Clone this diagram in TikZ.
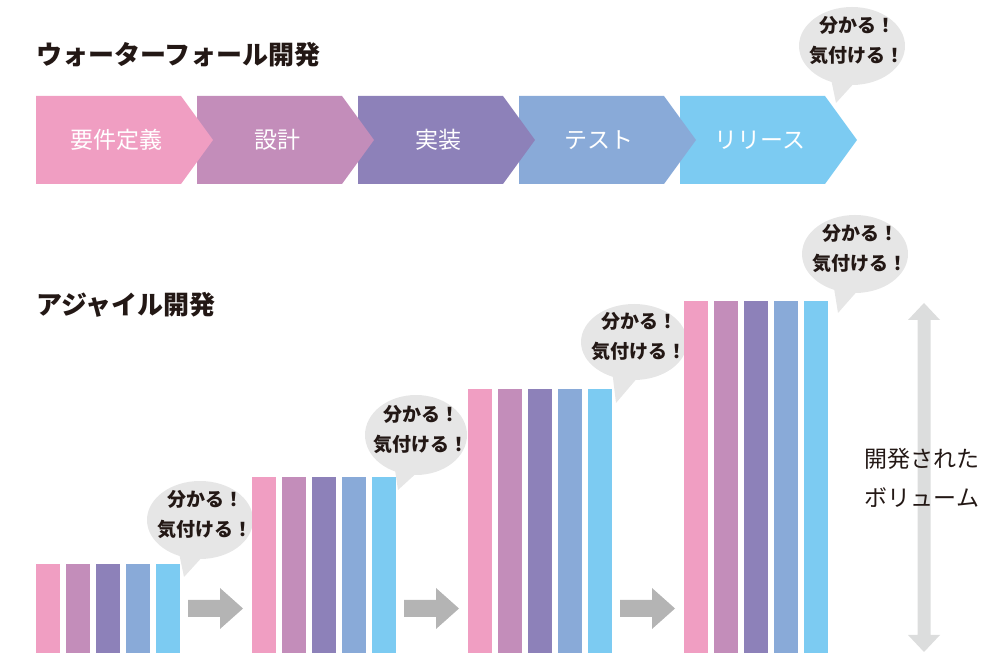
\documentclass[tikz,border=0pt]{standalone}
\usepackage{fontspec}
\setmainfont{Noto Sans CJK JP}

\definecolor{cpink}{HTML}{F09EC2}
\definecolor{cmauve}{HTML}{C38DBA}
\definecolor{cpurple}{HTML}{8D81B9}
\definecolor{cblue}{HTML}{89AAD8}
\definecolor{ccyan}{HTML}{7CCBF2}
\definecolor{bubblegray}{HTML}{E6E6E6}
\definecolor{arrowgray}{HTML}{B4B4B4}
\definecolor{volgray}{HTML}{DCDDDD}
\definecolor{textdark}{HTML}{231815}

\begin{document}
\begin{tikzpicture}[x=1pt,y=1pt,
    title/.style={anchor=west,inner sep=0pt,text=textdark,font=\fontsize{26}{30}\selectfont\bfseries},
    chevtext/.style={text=white,inner sep=0pt,font=\fontsize{23}{28}\selectfont},
    bubble/.style={fill=bubblegray},
    bubbletext/.style={align=center,inner sep=0pt,text=textdark,font=\fontsize{19}{30}\selectfont\bfseries},
    blockarrow/.style={fill=arrowgray}]
        \useasboundingbox (0,0) rectangle (1001,660);

        % waterfall
        \node[title] (wftitle) at (36,605) {ウォーターフォール開発};

        \fill[ccyan] (680,564) -- (825,564) -- (857,520) -- (825,476) -- (680,476) -- cycle;
        \fill[cblue] (519,564) -- (664,564) -- (696,520) -- (664,476) -- (519,476) -- cycle;
        \fill[cpurple] (358,564) -- (503,564) -- (535,520) -- (503,476) -- (358,476) -- cycle;
        \fill[cmauve] (197,564) -- (342,564) -- (374,520) -- (342,476) -- (197,476) -- cycle;
        \fill[cpink] (36,564) -- (181,564) -- (213,520) -- (181,476) -- (36,476) -- cycle;

        \node[chevtext] (req) at (116,520) {要件定義};
        \node[chevtext] (design) at (277,520) {設計};
        \node[chevtext] (impl) at (438,520) {実装};
        \node[chevtext] (test) at (599,520) {テスト};
        \node[chevtext] (release) at (760,520) {リリース};

        \fill[bubble] (830,586) -- (836,557) -- (857,580) -- cycle;
        \fill[bubble] (852,614) ellipse (53 and 39);
        \node[bubbletext] (b0) at (857,619) {分かる！\\気付ける！};

        % agile
        \node[title] (agtitle) at (36,355) {アジャイル開発};

        % first group
        \fill[cpink] (36,7) rectangle (59.5,96);
        \fill[cmauve] (66,7) rectangle (89.5,96);
        \fill[cpurple] (96,7) rectangle (119.5,96);
        \fill[cblue] (126,7) rectangle (149.5,96);
        \fill[ccyan] (156,7) rectangle (179.5,96);

        \fill[bubble] (178,112) -- (184,83) -- (205,106) -- cycle;
        \fill[bubble] (200,140) ellipse (53 and 39);
        \node[bubbletext] (b1) at (205,145) {分かる！\\気付ける！};

        \fill[blockarrow] (188,60) -- (220,60) -- (220,72) -- (243,51.5) -- (220,31) -- (220,43) -- (188,43) -- cycle;

        % second group
        \fill[cpink] (252,7) rectangle (275.5,183);
        \fill[cmauve] (282,7) rectangle (305.5,183);
        \fill[cpurple] (312,7) rectangle (335.5,183);
        \fill[cblue] (342,7) rectangle (365.5,183);
        \fill[ccyan] (372,7) rectangle (395.5,183);

        \fill[bubble] (394,197) -- (398,170) -- (421,191) -- cycle;
        \fill[bubble] (416,225) ellipse (51 and 40);
        \node[bubbletext] (b2) at (421,230) {分かる！\\気付ける！};

        \fill[blockarrow] (404,60) -- (436,60) -- (436,72) -- (459,51.5) -- (436,31) -- (436,43) -- (404,43) -- cycle;

        % third group
        \fill[cpink] (468,7) rectangle (491.5,271);
        \fill[cmauve] (498,7) rectangle (521.5,271);
        \fill[cpurple] (528,7) rectangle (551.5,271);
        \fill[cblue] (558,7) rectangle (581.5,271);
        \fill[ccyan] (588,7) rectangle (611.5,271);

        \fill[bubble] (612,290) -- (616,257) -- (639,284) -- cycle;
        \fill[bubble] (634,318) ellipse (53 and 38);
        \node[bubbletext] (b3) at (639,323) {分かる！\\気付ける！};

        \fill[blockarrow] (620,60) -- (652,60) -- (652,72) -- (675,51.5) -- (652,31) -- (652,43) -- (620,43) -- cycle;

        % fourth group
        \fill[cpink] (684,7) rectangle (707.5,359);
        \fill[cmauve] (714,7) rectangle (737.5,359);
        \fill[cpurple] (744,7) rectangle (767.5,359);
        \fill[cblue] (774,7) rectangle (797.5,359);
        \fill[ccyan] (804,7) rectangle (827.5,359);

        \fill[bubble] (833,378) -- (838,347) -- (860,372) -- cycle;
        \fill[bubble] (855,406) ellipse (53 and 39);
        \node[bubbletext] (b4) at (860,411) {分かる！\\気付ける！};

        % volume
        \fill[volgray] (924,357) -- (940,340) -- (930.5,340) -- (930.5,25) -- (940,25) -- (924,8)
            -- (908,25) -- (917.5,25) -- (917.5,340) -- (908,340) -- cycle;
        \node[align=center,inner sep=0pt,text=textdark,font=\fontsize{23}{39}\selectfont] (vol) at (922,182) {開発された\\ボリューム};

    \end{tikzpicture}
\end{document}
